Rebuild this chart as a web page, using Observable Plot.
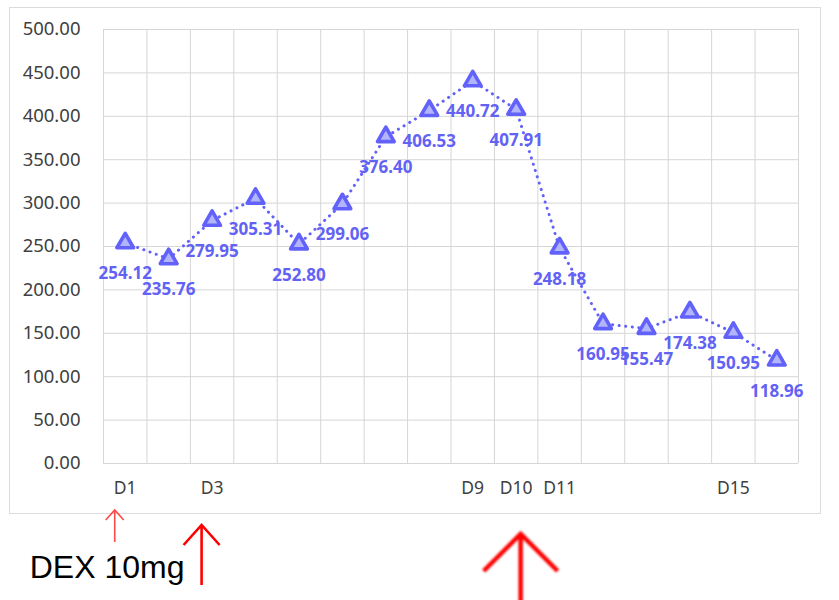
<!DOCTYPE html>
<html><head><meta charset="utf-8">
<script src="https://cdn.jsdelivr.net/npm/d3@7"></script>
<script src="https://cdn.jsdelivr.net/npm/@observablehq/plot@0.6"></script>
<style>
body{margin:0;background:#fff;}
#wrap{position:relative;width:839px;height:600px;overflow:hidden;}
#frame{position:absolute;left:9px;top:7px;width:810px;height:505px;border:1px solid #dcdcdc;}
#chart{position:absolute;left:0;top:0;}
</style></head><body>
<div id="wrap"><div id="frame"></div><div id="chart"></div></div>
<script>
// ---- data ----
const days = ["D1","D2","D3","D4","D5","D6","D7","D8","D9","D10","D11","D12","D13","D14","D15","D16"];
const shownDays = ["D1","D3","D9","D10","D11","D15"];
const values = [254.12, 235.76, 279.95, 305.31, 252.80, 299.06, 376.40, 406.53, 440.72, 407.91, 248.18, 160.95, 155.47, 174.38, 150.95, 118.96];
const yTicks = [0, 50, 100, 150, 200, 250, 300, 350, 400, 450, 500];
const doseLabel = "DEX 10mg";
const arrowDays = ["D1", "D3", "D10"];

const data = values.map((v, i) => ({day: days[i], i, v}));
const pos = d => days.indexOf(d) + 0.5;

const LINE = "#6262fa";
const FILL = "#b2b5fb";
const LABEL = "#6262f4";

function annotations(index, scales) {
  const g = d3.create("svg:g");
  const defs = g.append("defs");
  defs.append("filter").attr("id", "blurA").attr("x", "-50%").attr("y", "-50%").attr("width", "200%").attr("height", "200%")
    .append("feGaussianBlur").attr("stdDeviation", 1.1);
  const styles = [
    {dx: -10, tip: 510, hw: 9, hh: 10, bottom: 542, sw: 1.6, color: "#ff4848", blur: false},
    {dx: -10, tip: 525, hw: 18, hh: 20, bottom: 585, sw: 2.6, color: "#ff0000", blur: false},
    {dx: 5, tip: 534, hw: 37, hh: 37, bottom: 604, sw: 4.5, color: "#ff0000", blur: true}
  ];
  arrowDays.forEach((d, k) => {
    const s = styles[k];
    const x = scales.x(pos(d)) + s.dx;
    const p = g.append("path")
      .attr("d", `M${x},${s.bottom}L${x},${s.tip}M${x - s.hw},${s.tip + s.hh}L${x},${s.tip}L${x + s.hw},${s.tip + s.hh}`)
      .attr("fill", "none").attr("stroke", s.color).attr("stroke-width", s.sw)
      .attr("stroke-linejoin", "miter").attr("stroke-linecap", "butt");
    if (s.blur) p.attr("filter", "url(#blurA)");
  });
  g.append("text").attr("x", scales.x(pos("D1")) - 95).attr("y", 578)
    .attr("text-anchor", "start")
    .attr("font-family", "Liberation Sans, Arial, sans-serif").attr("font-size", 32)
    .attr("fill", "#000").text(doseLabel);
  return g.node();
}

const chart = Plot.plot({
  width: 839,
  height: 600,
  marginLeft: 103,
  marginRight: 41,
  marginTop: 29,
  marginBottom: 137,
  style: {fontFamily: "'Noto Sans', sans-serif", fontSize: "17px", color: "#404040", background: "transparent", overflow: "visible"},
  x: {domain: [0, days.length], axis: null},
  y: {domain: [0, 500], axis: null},
  marks: [
    Plot.gridX(d3.range(0, days.length + 1), {stroke: "#d6d6d6", strokeOpacity: 1, strokeWidth: 1}),
    Plot.gridY(yTicks, {stroke: "#d6d6d6", strokeOpacity: 1, strokeWidth: 1}),
    Plot.axisY(yTicks, {tickSize: 0, tickPadding: 23, tickFormat: d => d.toFixed(2), fontSize: 18.5, fill: "#404040", label: null}),
    Plot.axisX(shownDays.map(pos), {tickSize: 0, tickPadding: 18, tickFormat: v => days[Math.round(v - 0.5)], fontSize: 17.5, fill: "#404040", label: null}),
    Plot.line(data, {x: d => d.i + 0.5, y: "v", stroke: LINE, strokeWidth: 3, strokeDasharray: "0.1 6.5", strokeLinecap: "round"}),
    Plot.dot(data, {x: d => d.i + 0.5, y: "v", symbol: "triangle", r: 6.2, fill: FILL, stroke: LINE, strokeWidth: 3.6, strokeLinejoin: "round"}),
    Plot.text(data, {x: d => d.i + 0.5, y: "v", text: d => d.v.toFixed(2), dy: 31, fill: LABEL, fontWeight: "bold", fontSize: 17}),
    annotations
  ]
});
document.getElementById("chart").appendChild(chart);
</script>
</body></html>
